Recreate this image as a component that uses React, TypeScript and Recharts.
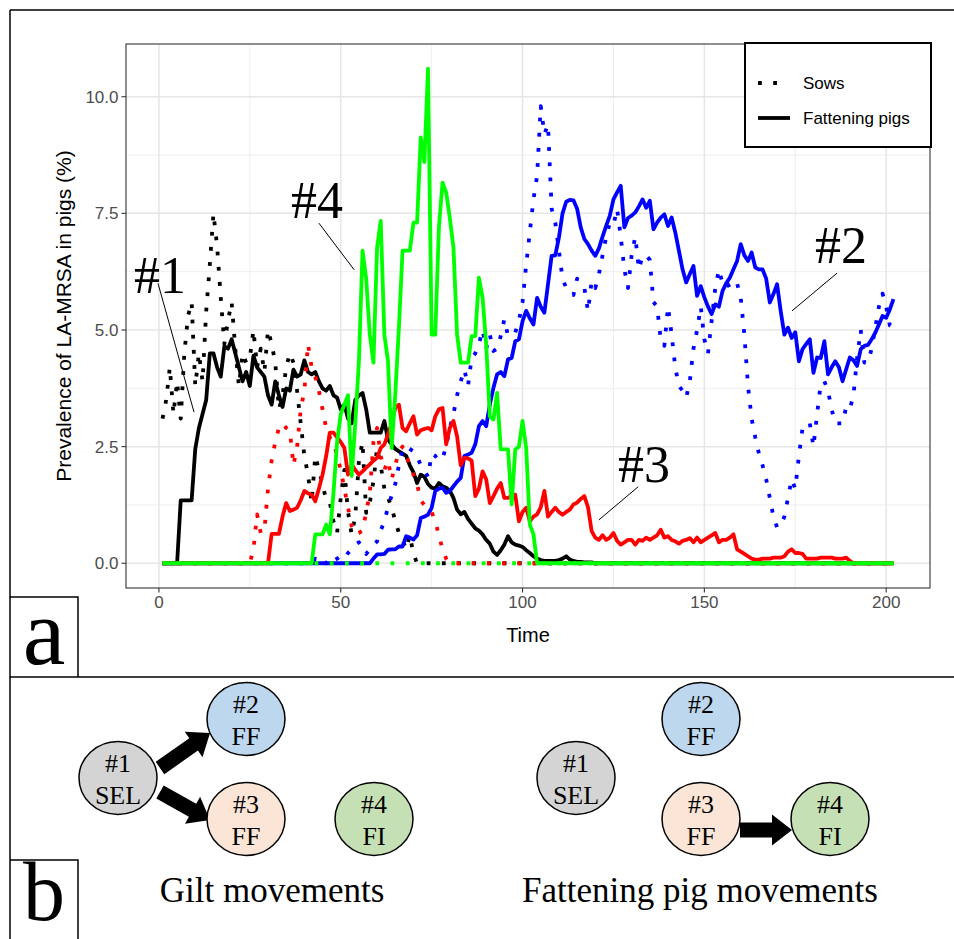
import {
  LineChart,
  Line,
  XAxis,
  YAxis,
  CartesianGrid,
  ReferenceLine,
  ReferenceDot,
} from "recharts";

const SANS = "'Liberation Sans', Arial, sans-serif";
const SERIF = "'Liberation Serif', 'Times New Roman', serif";

// time steps 1..202
const TIME = Array.from({ length: 202 }, (_, i) => i + 1);

// farm #1 (SEL), sows
const F1_SOWS = [
  3.1, 3.5, 4.2, 3.2, 3.9, 3.1, 4.5, 5.3, 5.6, 3.8, 4.5, 3.9, 5.4, 6.4, 7.5, 6.8, 5.7, 4.7, 5.2, 5.6,
  4.6, 3.8, 4.5, 4.3, 4.4, 5.0, 4.2, 4.6, 4.1, 5.0, 4.7, 4.3, 3.3, 3.6, 4.2, 4.5, 4.3, 3.7, 3.0, 2.3,
  1.9, 1.3, 2.3, 2.0, 1.7, 1.35, 1.3, 0.9, 0.65, 1.4, 2.0, 1.1, 0.62, 1.0, 2.2, 2.6, 1.08, 1.3, 1.76, 2.47,
  2.1, 1.6, 1.4, 1.2, 0.9, 0.65, 0.5, 0.3, 0.6, 0.2, 0, 0, 0, 0, 0, 0, 0, 0, 0, 0,
  0, 0, 0, 0, 0, 0, 0, 0, 0, 0, 0, 0, 0, 0, 0, 0, 0, 0, 0, 0,
  0, 0, 0, 0, 0, 0, 0, 0, 0, 0, 0, 0, 0, 0, 0, 0, 0, 0, 0, 0,
  0, 0, 0, 0, 0, 0, 0, 0, 0, 0, 0, 0, 0, 0, 0, 0, 0, 0, 0, 0,
  0, 0, 0, 0, 0, 0, 0, 0, 0, 0, 0, 0, 0, 0, 0, 0, 0, 0, 0, 0,
  0, 0, 0, 0, 0, 0, 0, 0, 0, 0, 0, 0, 0, 0, 0, 0, 0, 0, 0, 0,
  0, 0, 0, 0, 0, 0, 0, 0, 0, 0, 0, 0, 0, 0, 0, 0, 0, 0, 0, 0,
  0, 0,
];

// farm #1 (SEL), fattening pigs
const F1_FAT = [
  0, 0, 0, 0, 0, 1.35, 1.35, 1.35, 1.35, 2.45, 2.9, 3.2, 3.5, 4.5, 4.5, 4.2, 4.0, 4.65, 4.6, 4.8,
  4.5, 4.2, 3.9, 4.1, 3.8, 4.45, 4.2, 4.1, 4.0, 3.6, 3.4, 3.9, 3.6, 3.35, 3.75, 3.7, 4.15, 4.0, 4.05, 4.35,
  4.1, 4.05, 4.1, 3.9, 3.75, 3.7, 3.8, 3.6, 3.55, 3.3, 3.4, 3.1, 3.0, 3.5, 3.6, 3.65, 3.3, 2.8, 2.8, 2.8,
  2.8, 3.05, 2.65, 2.55, 2.45, 2.4, 2.35, 2.3, 2.1, 1.95, 1.72, 1.9, 1.85, 1.7, 1.62, 1.6, 1.72, 1.65, 1.62, 1.55,
  1.4, 1.15, 1.05, 1.1, 0.95, 0.85, 0.75, 0.7, 0.62, 0.5, 0.42, 0.25, 0.18, 0.28, 0.4, 0.58, 0.45, 0.4, 0.38, 0.35,
  0.28, 0.22, 0.15, 0.1, 0.07, 0.05, 0.05, 0.05, 0.05, 0.07, 0.1, 0.15, 0.08, 0.05, 0.03, 0.03, 0.02, 0.02, 0.02, 0,
  0, 0, 0, 0, 0, 0, 0, 0, 0, 0, 0, 0, 0, 0, 0, 0, 0, 0, 0, 0,
  0, 0, 0, 0, 0, 0, 0, 0, 0, 0, 0, 0, 0, 0, 0, 0, 0, 0, 0, 0,
  0, 0, 0, 0, 0, 0, 0, 0, 0, 0, 0, 0, 0, 0, 0, 0, 0, 0, 0, 0,
  0, 0, 0, 0, 0, 0, 0, 0, 0, 0, 0, 0, 0, 0, 0, 0, 0, 0, 0, 0,
  0, 0,
];

// farm #2 (FF), sows
const F2_SOWS = [
  0, 0, 0, 0, 0, 0, 0, 0, 0, 0, 0, 0, 0, 0, 0, 0, 0, 0, 0, 0,
  0, 0, 0, 0, 0, 0, 0, 0, 0, 0, 0, 0, 0, 0, 0, 0, 0, 0, 0, 0,
  0, 0, 0.1, 0.05, 0.1, 0, 0.1, 0.05, 0.1, 0.15, 0.1, 0.22, 0.3, 0.4, 0.45, 0.3, 0.2, 0.3, 0.4, 0.47,
  0.7, 0.9, 1.2, 1.45, 1.7, 2.1, 2.45, 2.5, 2.45, 2.4, 2.3, 2.1, 2.0, 1.85, 2.35, 2.3, 2.2, 2.25, 2.5, 2.9,
  3.2, 3.6, 3.9, 4.15, 3.8, 4.4, 4.5, 4.7, 5.0, 4.6, 4.9, 4.55, 4.6, 4.87, 5.23, 4.87, 4.9, 4.95, 5.2, 5.6,
  6.4, 7.1, 7.8, 8.3, 9.8, 9.2, 9.4, 7.6, 7.3, 6.7, 6.1, 5.9, 5.8, 5.75, 6.1, 6.0, 5.9, 5.4, 6.05, 5.9,
  6.2, 6.6, 7.0, 7.3, 7.25, 7.6, 7.0, 6.3, 5.9, 6.6, 7.0, 6.3, 6.6, 6.6, 6.5, 5.6, 5.5, 4.8, 4.66, 5.5,
  4.9, 4.2, 3.8, 3.7, 3.55, 3.9, 4.6, 5.0, 5.5, 4.8, 4.5, 5.2, 5.9, 6.3, 6.0, 6.05, 5.9, 5.9, 6.0, 5.7,
  4.9, 3.8, 3.1, 2.7, 2.35, 2.1, 1.8, 1.4, 1.0, 0.77, 0.8, 1.0, 1.4, 1.8, 1.6, 2.3, 2.9, 3.0, 3.0, 2.5,
  3.2, 3.85, 3.9, 3.7, 3.3, 3.0, 3.0, 3.0, 3.35, 3.3, 3.6, 4.4, 5.0, 4.3, 4.3, 4.6, 5.05, 5.5, 5.78, 5.5,
  5.1, 5.05,
];

// farm #2 (FF), fattening pigs
const F2_FAT = [
  0, 0, 0, 0, 0, 0, 0, 0, 0, 0, 0, 0, 0, 0, 0, 0, 0, 0, 0, 0,
  0, 0, 0, 0, 0, 0, 0, 0, 0, 0, 0, 0, 0, 0, 0, 0, 0, 0, 0, 0,
  0, 0, 0, 0, 0, 0, 0, 0, 0, 0, 0, 0, 0, 0, 0, 0, 0, 0, 0.1, 0.19,
  0.19, 0.2, 0.29, 0.3, 0.3, 0.36, 0.36, 0.58, 0.55, 0.51, 0.6, 0.97, 1.0, 1.04, 1.19, 1.55, 1.6, 1.62, 1.51, 1.55,
  1.65, 1.75, 1.83, 2.3, 2.33, 2.37, 2.55, 2.94, 3.05, 2.94, 3.4, 3.76, 4.05, 4.1, 4.01, 4.37, 4.4, 4.76, 4.8, 5.19,
  5.41, 5.25, 5.12, 5.69, 5.5, 5.37, 5.98, 6.59, 6.6, 6.98, 7.5, 7.75, 7.79, 7.78, 7.6, 7.2, 6.95, 6.84, 6.7, 6.59,
  6.75, 7.0, 7.23, 7.45, 7.8, 7.95, 8.09, 7.2, 7.4, 7.45, 7.52, 7.65, 7.8, 7.62, 7.77, 7.16, 7.3, 7.41, 7.48, 7.23,
  7.41, 7.09, 6.7, 6.3, 6.02, 6.2, 6.37, 5.73, 5.94, 5.7, 5.5, 5.34, 5.55, 5.5, 5.84, 6.0, 6.12, 6.3, 6.48, 6.84,
  6.6, 6.48, 6.66, 6.34, 6.3, 6.3, 6.1, 5.59, 5.77, 5.98, 5.4, 4.9, 5.05, 4.83, 4.95, 4.33, 4.59, 4.7, 4.8, 4.08,
  4.41, 4.4, 4.76, 4.05, 4.2, 4.33, 4.2, 3.9, 4.16, 4.41, 4.35, 4.23, 4.59, 4.66, 4.68, 4.8, 4.94, 5.12, 5.3, 5.26,
  5.44, 5.66,
];

// farm #3 (FF), sows
const F3_SOWS = [
  0, 0, 0, 0, 0, 0, 0, 0, 0, 0, 0, 0, 0, 0, 0, 0, 0, 0, 0, 0,
  0, 0, 0, 0, 0, 0.3, 1.05, 0.65, 0.7, 1.6, 2.2, 2.6, 2.9, 3.0, 2.9, 2.85, 2.1, 2.5, 3.3, 3.7,
  4.7, 4.2, 4.0, 3.7, 3.3, 2.9, 2.7, 2.6, 2.3, 2.0, 1.6, 1.2, 0.8, 0.62, 0.65, 0.7, 1.1, 1.5, 2.6, 2.9,
  2.3, 2.0, 2.2, 1.8, 2.1, 2.4, 2.5, 2.3, 2.1, 1.9, 1.7, 1.35, 1.25, 1.2, 1.1, 0.9, 0.6, 0.3, 0.1, 0,
  0, 0, 0, 0, 0, 0, 0, 0, 0, 0, 0, 0, 0, 0, 0, 0, 0, 0, 0, 0,
  0, 0, 0, 0, 0, 0, 0, 0, 0, 0, 0, 0, 0, 0, 0, 0, 0, 0, 0, 0,
  0, 0, 0, 0, 0, 0, 0, 0, 0, 0, 0, 0, 0, 0, 0, 0, 0, 0, 0, 0,
  0, 0, 0, 0, 0, 0, 0, 0, 0, 0, 0, 0, 0, 0, 0, 0, 0, 0, 0, 0,
  0, 0, 0, 0, 0, 0, 0, 0, 0, 0, 0, 0, 0, 0, 0, 0, 0, 0, 0, 0,
  0, 0, 0, 0, 0, 0, 0, 0, 0, 0, 0, 0, 0, 0, 0, 0, 0, 0, 0, 0,
  0, 0,
];

// farm #3 (FF), fattening pigs
const F3_FAT = [
  0, 0, 0, 0, 0, 0, 0, 0, 0, 0, 0, 0, 0, 0, 0, 0, 0, 0, 0, 0,
  0, 0, 0, 0, 0, 0, 0, 0, 0, 0, 0.63, 0.63, 0.63, 1.0, 1.29, 1.12, 1.15, 1.19, 1.35, 1.55,
  1.5, 1.47, 1.33, 1.6, 1.9, 2.3, 2.8, 2.8, 2.7, 2.6, 2.47, 1.9, 2.12, 2.0, 1.9, 1.97, 2.05, 2.12, 2.2, 2.26,
  2.47, 2.55, 2.76, 3.0, 3.33, 3.4, 2.9, 2.83, 3.0, 3.15, 2.76, 2.85, 2.88, 2.9, 2.85, 3.15, 3.3, 3.33, 2.55, 2.9,
  3.05, 2.72, 2.1, 2.26, 2.25, 2.2, 1.44, 1.6, 1.97, 1.8, 1.29, 1.44, 1.6, 1.72, 1.4, 1.4, 1.45, 1.47, 0.9, 1.1,
  1.19, 0.9, 1.0, 1.05, 1.2, 1.55, 1.0, 1.1, 1.19, 1.1, 1.04, 1.1, 1.15, 1.26, 1.3, 1.38, 1.44, 1.2, 0.69, 0.55,
  0.5, 0.6, 0.5, 0.55, 0.65, 0.48, 0.4, 0.45, 0.5, 0.5, 0.4, 0.5, 0.48, 0.55, 0.5, 0.55, 0.6, 0.72, 0.55, 0.58,
  0.5, 0.47, 0.42, 0.48, 0.5, 0.54, 0.45, 0.55, 0.45, 0.5, 0.55, 0.6, 0.65, 0.45, 0.5, 0.5, 0.55, 0.62, 0.3, 0.25,
  0.2, 0.15, 0.1, 0.08, 0.08, 0.1, 0.1, 0.1, 0.12, 0.12, 0.12, 0.15, 0.25, 0.3, 0.22, 0.22, 0.2, 0.1, 0.1, 0.1,
  0.1, 0.12, 0.12, 0.12, 0.12, 0.1, 0.1, 0.1, 0.12, 0.05, 0, 0, 0, 0, 0, 0, 0, 0, 0, 0,
  0, 0,
];

// farm #4 (FI), sows
const F4_SOWS = [
  0, 0, 0, 0, 0, 0, 0, 0, 0, 0, 0, 0, 0, 0, 0, 0, 0, 0, 0, 0,
  0, 0, 0, 0, 0, 0, 0, 0, 0, 0, 0, 0, 0, 0, 0, 0, 0, 0, 0, 0,
  0, 0, 0, 0, 0, 0, 0, 0, 0, 0, 0, 0, 0, 0, 0, 0, 0, 0, 0, 0,
  0, 0, 0, 0, 0, 0, 0, 0, 0, 0, 0, 0, 0, 0, 0, 0, 0, 0, 0, 0,
  0, 0, 0, 0, 0, 0, 0, 0, 0, 0, 0, 0, 0, 0, 0, 0, 0, 0, 0, 0,
  0, 0, 0, 0, 0, 0, 0, 0, 0, 0, 0, 0, 0, 0, 0, 0, 0, 0, 0, 0,
  0, 0, 0, 0, 0, 0, 0, 0, 0, 0, 0, 0, 0, 0, 0, 0, 0, 0, 0, 0,
  0, 0, 0, 0, 0, 0, 0, 0, 0, 0, 0, 0, 0, 0, 0, 0, 0, 0, 0, 0,
  0, 0, 0, 0, 0, 0, 0, 0, 0, 0, 0, 0, 0, 0, 0, 0, 0, 0, 0, 0,
  0, 0, 0, 0, 0, 0, 0, 0, 0, 0, 0, 0, 0, 0, 0, 0, 0, 0, 0, 0,
  0, 0,
];

// farm #4 (FI), fattening pigs
const F4_FAT = [
  0, 0, 0, 0, 0, 0, 0, 0, 0, 0, 0, 0, 0, 0, 0, 0, 0, 0, 0, 0,
  0, 0, 0, 0, 0, 0, 0, 0, 0, 0, 0, 0, 0, 0, 0, 0, 0, 0, 0, 0,
  0, 0, 0.62, 0.62, 0.62, 0.83, 0.62, 1.5, 2.6, 3.2, 3.4, 3.6, 1.87, 3.0, 4.33, 6.7, 6.1, 4.9, 4.3, 6.77,
  7.34, 4.9, 4.33, 2.47, 3.62, 5.05, 6.7, 6.7, 6.7, 7.3, 7.3, 9.13, 8.6, 10.6, 4.9, 4.9, 7.2, 8.16, 7.95, 7.4,
  6.77, 4.9, 4.3, 4.3, 4.3, 4.87, 4.87, 6.12, 5.7, 4.7, 3.15, 3.08, 3.65, 2.44, 2.44, 2.44, 1.26, 2.44, 2.5, 3.05,
  2.47, 0.83, 0.62, 0, 0, 0, 0, 0, 0, 0, 0, 0, 0, 0, 0, 0, 0, 0, 0, 0,
  0, 0, 0, 0, 0, 0, 0, 0, 0, 0, 0, 0, 0, 0, 0, 0, 0, 0, 0, 0,
  0, 0, 0, 0, 0, 0, 0, 0, 0, 0, 0, 0, 0, 0, 0, 0, 0, 0, 0, 0,
  0, 0, 0, 0, 0, 0, 0, 0, 0, 0, 0, 0, 0, 0, 0, 0, 0, 0, 0, 0,
  0, 0, 0, 0, 0, 0, 0, 0, 0, 0, 0, 0, 0, 0, 0, 0, 0, 0, 0, 0,
  0, 0,
];

const X_TICKS = [0, 50, 100, 150, 200];
const X_MINOR = [25, 75, 125, 175];
const Y_TICKS = [0, 2.5, 5, 7.5, 10];
const Y_MINOR = [1.25, 3.75, 6.25, 8.75];

// farm labels with their leader lines
const NOTES = [
  { text: "#1", x: 0.3, y: 5.79, line: [[-0.25, 6.0], [9.65, 3.24]] },
  { text: "#4", x: 43.5, y: 7.4, line: [[44.0, 7.29], [53.7, 6.29]] },
  { text: "#3", x: 133.4, y: 1.74, line: [[121.0, 0.93], [131.8, 1.64]] },
  { text: "#2", x: 187.6, y: 6.44, line: [[174.1, 5.41], [186.5, 6.22]] },
];

const SERIES = [
  { key: "f1s", values: F1_SOWS, color: "#000000", dotted: true },
  { key: "f1f", values: F1_FAT, color: "#000000", dotted: false },
  { key: "f2s", values: F2_SOWS, color: "#0000ff", dotted: true },
  { key: "f2f", values: F2_FAT, color: "#0000ff", dotted: false },
  { key: "f3s", values: F3_SOWS, color: "#ff0000", dotted: true },
  { key: "f3f", values: F3_FAT, color: "#ff0000", dotted: false },
  { key: "f4s", values: F4_SOWS, color: "#00ff00", dotted: true },
  { key: "f4f", values: F4_FAT, color: "#00ff00", dotted: false },
];

const data = TIME.map((t, i) => {
  const row: Record<string, number> = { t };
  SERIES.forEach((s) => (row[s.key] = s.values[i]));
  return row;
});

const LW = 3.8;
const DOTS = `${LW} ${LW * 3}`;

// gilt / fattening pig movement diagram
const FARMS = [
  { id: "#1", type: "SEL", fill: "#d4d4d4" },
  { id: "#2", type: "FF", fill: "#bdd7ee" },
  { id: "#3", type: "FF", fill: "#fbe5d6" },
  { id: "#4", type: "FI", fill: "#c5e0b4" },
];

const Farm = ({ cx, cy, farm }: any) => (
  <g>
    <ellipse cx={cx} cy={cy} rx={39} ry={36.5} fill={farm.fill} stroke="#000" strokeWidth={1.5} />
    <text x={cx} y={cy - 6} textAnchor="middle" fontFamily={SERIF} fontSize={26}>
      {farm.id}
    </text>
    <text x={cx} y={cy + 26} textAnchor="middle" fontFamily={SERIF} fontSize={26}>
      {farm.type}
    </text>
  </g>
);

const Arrow = ({ x1, y1, x2, y2 }: any) => {
  const len = Math.hypot(x2 - x1, y2 - y1);
  const ang = (Math.atan2(y2 - y1, x2 - x1) * 180) / Math.PI;
  const head = 20;
  const pts = [
    [0, -7.5],
    [len - head, -7.5],
    [len - head, -15.5],
    [len, 0],
    [len - head, 15.5],
    [len - head, 7.5],
    [0, 7.5],
  ]
    .map((p) => p.join(","))
    .join(" ");
  return <polygon points={pts} fill="#000" transform={`translate(${x1},${y1}) rotate(${ang})`} />;
};

const noteShape = (text: string) => (p: any) => (
  <text x={p.cx} y={p.cy} textAnchor="middle" fontFamily={SERIF} fontSize={52} fill="#000">
    {text}
  </text>
);

export default function App() {
  return (
    <div style={{ position: "absolute", left: 0, top: 0, width: 954, height: 939, background: "#fff", overflow: "hidden" }}>
      <div style={{ position: "absolute", left: 0, top: 0 }}>
        <LineChart width={954} height={680} data={data} margin={{ top: 44, right: 24, bottom: 62, left: 66 }}>
          <CartesianGrid stroke="#ebebeb" strokeWidth={0.8} horizontalValues={Y_MINOR} verticalValues={X_MINOR} />
          <CartesianGrid stroke="#e6e6e6" strokeWidth={1.5} horizontalValues={Y_TICKS} verticalValues={X_TICKS} />
          <XAxis
            dataKey="t"
            type="number"
            domain={[-9.05, 212.05]}
            ticks={X_TICKS}
            allowDataOverflow
            axisLine={false}
            tickSize={4.5}
            tickMargin={3}
            tickLine={{ stroke: "#333333", strokeWidth: 1.1 }}
            tick={{ fill: "#4d4d4d", fontSize: 17, fontFamily: SANS }}
            height={30}
          />
          <YAxis
            type="number"
            domain={[-0.53, 11.13]}
            ticks={Y_TICKS}
            allowDataOverflow
            axisLine={false}
            tickSize={4.5}
            tickMargin={3}
            tickLine={{ stroke: "#333333", strokeWidth: 1.1 }}
            tick={{ fill: "#4d4d4d", fontSize: 17, fontFamily: SANS }}
            tickFormatter={(v: number) => v.toFixed(1)}
            width={60}
          />
          {SERIES.map((s) => (
            <Line
              key={s.key}
              dataKey={s.key}
              type="linear"
              stroke={s.color}
              strokeWidth={LW}
              strokeDasharray={s.dotted ? DOTS : undefined}
              strokeLinejoin="round"
              dot={false}
              activeDot={false}
              isAnimationActive={false}
            />
          ))}
          {NOTES.map((n) => (
            <ReferenceLine
              key={`l${n.text}`}
              segment={[
                { x: n.line[0][0], y: n.line[0][1] },
                { x: n.line[1][0], y: n.line[1][1] },
              ]}
              stroke="#000"
              strokeWidth={1}
            />
          ))}
          {NOTES.map((n) => (
            <ReferenceDot key={`t${n.text}`} x={n.x} y={n.y} r={0} shape={noteShape(n.text)} />
          ))}
        </LineChart>
      </div>

      <svg width={954} height={939} style={{ position: "absolute", left: 0, top: 0, pointerEvents: "none" }}>
        {/* panel border */}
        <rect x={126} y={44} width={804} height={544} fill="none" stroke="#333333" strokeWidth={1.1} />

        {/* axis titles */}
        <text x={528} y={642} textAnchor="middle" fontFamily={SANS} fontSize={20}>
          Time
        </text>
        <text x={71} y={316} textAnchor="middle" fontFamily={SANS} fontSize={21} transform="rotate(-90 71 316)">
          Prevalence of LA-MRSA in pigs (%)
        </text>

        {/* legend */}
        <rect x={745} y={43} width={186} height={104} fill="#fff" stroke="#000" strokeWidth={2} />
        <line x1={758} y1={83} x2={782} y2={83} stroke="#000" strokeWidth={LW} strokeDasharray={DOTS} />
        <text x={803} y={89} fontFamily={SANS} fontSize={17}>
          Sows
        </text>
        <line x1={758} y1={118} x2={790} y2={118} stroke="#000" strokeWidth={LW} />
        <text x={803} y={124} fontFamily={SANS} fontSize={17}>
          Fattening pigs
        </text>

        {/* figure frames */}
        <line x1={10} y1={10} x2={954} y2={10} stroke="#000" strokeWidth={1.5} />
        <line x1={10} y1={10} x2={10} y2={939} stroke="#000" strokeWidth={1.5} />
        <line x1={10} y1={677} x2={954} y2={677} stroke="#000" strokeWidth={1.5} />
        <polyline points="10,597 78,597 78,677" fill="none" stroke="#000" strokeWidth={1.5} />
        <polyline points="10,860 78,860 78,939" fill="none" stroke="#000" strokeWidth={1.5} />
        <text x={44} y={664} textAnchor="middle" fontFamily={SERIF} fontSize={96}>
          a
        </text>
        <text x={44} y={920} textAnchor="middle" fontFamily={SERIF} fontSize={84}>
          b
        </text>

        {/* panel b: gilt movements */}
        <Arrow x1={160} y1={768} x2={210} y2={733} />
        <Arrow x1={160} y1={792} x2={210} y2={820} />
        <Farm cx={118} cy={778} farm={FARMS[0]} />
        <Farm cx={246} cy={719} farm={FARMS[1]} />
        <Farm cx={246} cy={819} farm={FARMS[2]} />
        <Farm cx={374} cy={819} farm={FARMS[3]} />
        <text x={272} y={902} textAnchor="middle" fontFamily={SERIF} fontSize={35}>
          Gilt movements
        </text>

        {/* panel b: fattening pig movements */}
        <Arrow x1={740} y1={830} x2={792} y2={830} />
        <Farm cx={576} cy={778} farm={FARMS[0]} />
        <Farm cx={701} cy={719} farm={FARMS[1]} />
        <Farm cx={701} cy={819} farm={FARMS[2]} />
        <Farm cx={830} cy={819} farm={FARMS[3]} />
        <text x={700} y={902} textAnchor="middle" fontFamily={SERIF} fontSize={35}>
          Fattening pig movements
        </text>
      </svg>
    </div>
  );
}
